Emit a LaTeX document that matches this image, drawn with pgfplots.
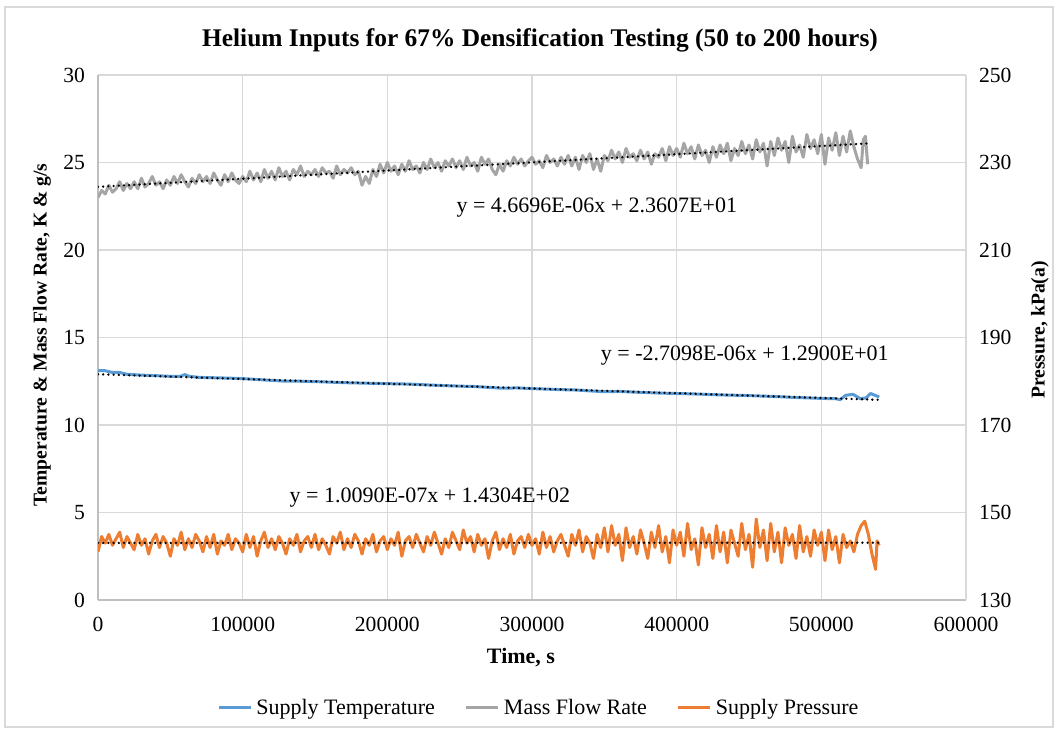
\documentclass[border=0pt]{standalone}
\usepackage{pgfplots}
\pgfplotsset{compat=1.18}
\usepackage{fontspec}
\setmainfont{Liberation Serif}
\definecolor{cTemp}{HTML}{5B9BD5}
\definecolor{cMass}{HTML}{A5A5A5}
\definecolor{cPres}{HTML}{ED7D31}
\definecolor{cGrid}{HTML}{D9D9D9}
\definecolor{cAxis}{HTML}{BFBFBF}
\pgfplotstableread{
x y
0 13.1
5000 13.1
10000 13.0
15000 13.0
20000 12.9
30000 12.85
40000 12.82
50000 12.78
57000 12.78
60000 12.88
63000 12.78
70000 12.72
80000 12.70
90000 12.68
100000 12.65
110000 12.6
120000 12.55
130000 12.5
140000 12.5
150000 12.48
160000 12.45
170000 12.42
180000 12.4
190000 12.38
200000 12.36
210000 12.35
220000 12.32
230000 12.28
240000 12.25
250000 12.22
260000 12.2
270000 12.15
280000 12.1
290000 12.12
300000 12.08
310000 12.05
320000 12.02
330000 12.0
340000 11.95
350000 11.9
360000 11.92
370000 11.88
380000 11.85
390000 11.82
400000 11.8
410000 11.78
420000 11.75
430000 11.72
440000 11.7
450000 11.68
460000 11.65
470000 11.62
480000 11.58
490000 11.55
500000 11.52
510000 11.5
513000 11.45
517000 11.7
522000 11.75
527000 11.5
531000 11.55
534000 11.8
537000 11.7
540000 11.6
}\tempdata
\pgfplotstableread{
x y
0 23.0
2500 23.4
5000 23.2
7500 23.7
10000 23.3
12500 23.5
15000 23.9
17500 23.4
20000 23.8
22500 23.5
25000 23.9
27500 23.5
30000 24.1
32500 23.6
35000 23.8
37500 24.2
40000 23.7
42500 23.9
45000 23.5
47500 24.0
50000 23.7
52500 24.2
55000 23.8
57500 24.3
60000 23.9
62500 23.6
65000 24.1
67500 23.8
70000 24.3
72500 23.9
75000 24.2
77500 23.8
80000 24.4
82500 24.0
85000 23.7
87500 24.3
90000 23.9
92500 24.4
95000 24.0
97500 23.8
100000 24.2
102500 23.9
105000 24.5
107500 24.0
110000 24.4
112500 23.9
115000 24.6
117500 24.1
120000 24.5
122500 24.0
125000 24.7
127500 24.2
130000 24.5
132500 24.0
135000 24.6
137500 24.3
140000 24.8
142500 24.2
145000 24.5
147500 24.3
150000 24.6
152500 24.2
155000 24.7
157500 24.4
160000 24.5
162500 24.1
165000 24.8
167500 24.3
170000 24.6
172500 24.4
175000 24.7
177500 24.3
180000 24.5
182500 23.7
185000 24.2
187500 23.8
190000 24.6
192500 24.2
195000 24.9
197500 24.4
200000 25.0
202500 24.5
205000 24.8
207500 24.3
210000 24.9
212500 24.5
215000 25.1
217500 24.6
220000 24.8
222500 24.4
225000 25.0
227500 24.6
230000 25.2
232500 24.7
235000 25.0
237500 24.5
240000 25.1
242500 24.8
245000 25.2
247500 24.7
250000 25.1
252500 24.6
255000 25.3
257500 24.8
260000 25.0
262500 24.5
265000 25.3
267500 24.9
270000 25.2
272500 24.6
275000 24.3
277500 24.9
280000 24.5
282500 25.1
285000 24.8
287500 25.3
290000 24.9
292500 25.2
295000 24.8
297500 25.1
300000 25.3
302500 24.9
305000 25.1
307500 24.7
310000 25.4
312500 25.0
315000 25.2
317500 24.8
320000 25.3
322500 24.9
325000 25.4
327500 24.8
330000 25.3
332500 24.6
335000 25.4
337500 25.0
340000 25.5
342500 24.6
345000 25.2
347500 24.5
350000 25.4
352500 25.1
355000 25.7
357500 25.2
360000 25.6
362500 25.0
365000 25.8
367500 25.3
370000 25.5
372500 25.1
375000 25.7
377500 25.2
380000 25.6
382500 24.9
385000 25.5
387500 25.3
390000 25.8
392500 25.1
395000 25.9
397500 25.4
400000 25.8
402500 25.3
405000 26.1
407500 25.5
410000 25.9
412500 25.2
415000 26.0
417500 25.4
420000 25.7
422500 25.0
425000 25.9
427500 25.3
430000 26.0
432500 25.5
435000 26.1
437500 25.1
440000 25.8
442500 25.4
445000 26.2
447500 25.5
450000 26.0
452500 25.2
455000 26.3
457500 25.6
460000 26.1
462500 24.8
465000 26.2
467500 25.4
470000 26.4
472500 25.7
475000 26.2
477500 25.0
480000 26.5
482500 25.6
485000 26.0
487500 25.3
490000 26.6
492500 25.8
495000 26.3
497500 25.5
500000 26.6
502500 24.9
505000 26.4
507500 25.7
510000 26.7
512500 25.4
515000 26.5
517500 25.6
520000 26.8
522500 25.9
525000 25.2
527500 24.7
529000 26.3
530500 26.5
532000 24.9
}\massdata
\pgfplotstableread{
x y
0 141.0
2500 144.5
5000 143.0
7500 145.0
10000 142.5
12500 144.0
15000 145.5
17500 142.0
20000 144.5
22500 143.0
25000 141.5
27500 145.0
30000 142.5
32500 144.0
35000 140.5
37500 143.5
40000 145.0
42500 142.0
45000 144.5
47500 143.0
50000 140.0
52500 144.0
55000 142.5
57500 145.5
60000 141.5
62500 144.0
65000 142.0
67500 145.0
70000 143.5
72500 141.0
75000 144.5
77500 142.0
80000 145.0
82500 140.5
85000 143.5
87500 142.5
90000 145.0
92500 141.5
95000 144.0
97500 143.0
100000 141.0
102500 145.0
105000 142.0
107500 144.5
110000 140.0
112500 143.5
115000 145.5
117500 142.0
120000 144.0
122500 141.5
125000 144.5
127500 143.0
130000 140.5
132500 144.0
135000 142.5
137500 145.0
140000 141.0
142500 143.5
145000 144.5
147500 142.0
150000 145.0
152500 141.5
155000 144.0
157500 142.5
160000 140.5
162500 144.5
165000 143.0
167500 145.5
170000 141.5
172500 144.0
175000 142.0
177500 145.0
180000 143.5
182500 140.5
185000 144.0
187500 142.5
190000 145.0
192500 141.0
195000 143.5
197500 144.5
200000 141.5
202500 144.0
205000 142.5
207500 145.5
210000 140.0
212500 143.5
215000 144.5
217500 142.0
220000 145.0
222500 143.0
225000 141.0
227500 144.5
230000 142.5
232500 145.5
235000 143.0
237500 140.5
240000 144.0
242500 142.0
245000 145.5
247500 143.5
250000 141.5
252500 146.0
255000 143.0
257500 144.5
260000 141.0
262500 145.0
265000 142.5
267500 144.0
270000 139.5
272500 143.5
275000 145.5
277500 141.5
280000 144.0
282500 142.0
285000 145.0
287500 140.5
290000 143.5
292500 144.5
295000 142.0
297500 145.0
300000 142.5
302500 144.0
305000 140.5
307500 145.5
310000 142.0
312500 144.5
315000 141.0
317500 143.5
320000 145.0
322500 142.5
325000 140.0
327500 145.0
330000 142.5
332500 146.0
335000 141.0
337500 144.5
340000 143.0
342500 139.5
345000 145.0
347500 142.0
350000 146.5
352500 141.0
355000 147.0
357500 142.5
360000 145.0
362500 139.0
365000 146.5
367500 142.0
370000 144.5
372500 140.5
375000 146.0
377500 143.0
380000 139.5
382500 145.5
385000 142.0
387500 147.0
390000 141.0
392500 144.5
395000 138.5
397500 146.0
400000 142.5
402500 145.5
405000 140.0
407500 147.5
410000 141.5
412500 144.0
415000 138.0
417500 146.5
420000 142.0
422500 145.0
425000 139.5
427500 147.0
430000 141.0
432500 145.5
435000 138.5
437500 146.0
440000 143.0
442500 140.0
445000 147.5
447500 141.5
450000 145.0
452500 137.5
455000 148.5
457500 142.0
460000 146.0
462500 139.0
465000 147.5
467500 141.0
470000 145.5
472500 138.5
475000 146.5
477500 142.5
480000 145.0
482500 139.5
485000 147.0
487500 141.0
490000 144.5
492500 140.0
495000 146.0
497500 142.5
500000 145.5
502500 139.0
505000 146.0
507500 141.5
510000 144.5
512500 138.5
515000 145.0
517500 142.0
520000 143.5
522500 141.0
525000 145.0
527500 147.0
530000 148.0
532500 145.0
535000 140.5
537500 137.0
538500 143.5
540000 142.5
}\presdata
\pgfplotsset{
  common/.style={
    scale only axis, width=434pt, height=262.5pt,
    at={(0pt,0pt)}, anchor=south west,
    xmin=0, xmax=600000,
    xtick={0,100000,...,600000},
    scaled x ticks=false, scaled y ticks=false,
    /pgf/number format/fixed,
    /pgf/number format/precision=0,
    /pgf/number format/1000 sep={},
    /pgf/number format/assume math mode=true,
    tick label style={font=\fontsize{10.8}{12}\selectfont, text=black},
    major tick length=0pt,
  },
  trend/.style={black, line width=1.3pt, line cap=round, dash pattern=on 0pt off 2.6pt, forget plot},
}
\begin{document}
\begin{tikzpicture}
\useasboundingbox (-49pt,-66pt) rectangle (480pt,300pt);
\draw[cGrid, line width=0.8pt] (-46.5pt,-63.5pt) rectangle (477.5pt,296.5pt);
\begin{axis}[common,
  ymin=0, ymax=30, ytick={0,5,...,30},
  axis x line*=bottom, axis y line*=left,
  axis line style={cAxis, line width=0.6pt, -},
  grid=major, grid style={cGrid, line width=0.6pt},
  xticklabel style={yshift=-5pt},
  yticklabel style={xshift=-3pt},
  legend columns=3,
  legend style={draw=none, fill=none, at={(0.509,-0.2057)}, anchor=center,
    font=\fontsize{11}{12}\selectfont, inner sep=0pt,
    /tikz/every even column/.append style={column sep=13pt}},
  legend cell align=left,
  legend image code/.code={\draw[#1, line width=1.5pt] (0pt,0pt) -- (16pt,0pt);},
]
\addplot[cTemp, line width=1.5pt, line join=round] table[x=x,y=y]{\tempdata};
\addlegendentry{Supply Temperature}
\addplot[cMass, line width=1.5pt, line join=round] table[x=x,y=y]{\massdata};
\addlegendentry{Mass Flow Rate}
\addlegendimage{cPres}
\addlegendentry{Supply Pressure}
\addplot[trend] coordinates {(0,23.607) (532000,26.091)};
\addplot[trend] coordinates {(0,12.900) (540000,11.437)};
\node[font=\fontsize{11}{12}\selectfont] at (axis cs:344800,22.4) {y = 4.6696E-06x + 2.3607E+01};
\node[font=\fontsize{11}{12}\selectfont] at (axis cs:447100,13.94) {y = -2.7098E-06x + 1.2900E+01};
\node[font=\fontsize{11}{12}\selectfont] at (axis cs:229400,5.83) {y = 1.0090E-07x + 1.4304E+02};
\end{axis}
\begin{axis}[common,
  ymin=130, ymax=250, ytick={130,150,...,250},
  axis x line=none, axis y line*=right,
  axis line style={cGrid, line width=0.6pt, -},
  yticklabel style={xshift=3pt},
]
\addplot[cPres, line width=1.5pt, line join=round] table[x=x,y=y]{\presdata};
\addplot[trend] coordinates {(0,143.04) (540000,143.094)};
\end{axis}
\node[font=\bfseries\fontsize{12.7}{14}\selectfont] at (221pt,280pt) {Helium Inputs for 67\% Densification Testing (50 to 200 hours)};
\node[font=\bfseries\fontsize{11}{12}\selectfont] at (211.5pt,-29pt) {Time, s};
\node[font=\bfseries\fontsize{9.8}{12}\selectfont, rotate=90] at (-28pt,132.5pt) {Temperature \& Mass Flow Rate, K \& g/s};
\node[font=\bfseries\fontsize{9.8}{12}\selectfont, rotate=90] at (471pt,135pt) {Pressure, kPa(a)};
\end{tikzpicture}
\end{document}
